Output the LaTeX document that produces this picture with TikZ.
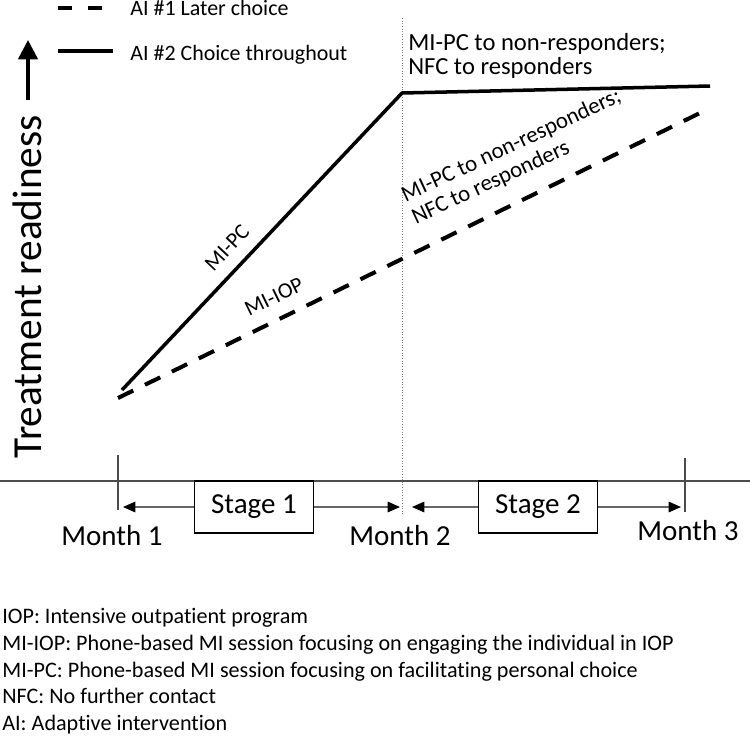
\documentclass[tikz,border=0pt]{standalone}
\usepackage{fontspec}
\setmainfont{Carlito}[Ligatures=CommonOff]
\usetikzlibrary{arrows.meta}

\begin{document}
\begin{tikzpicture}[x=0.02cm, y=-0.02cm,
  lbl/.style={font=\fontsize{12.5}{13.2}\selectfont, inner sep=0pt},
  note/.style={font=\fontsize{12.6}{14}\selectfont, inner sep=0pt, anchor=base west},
  month/.style={font=\fontsize{16.5}{18}\selectfont, inner sep=0pt, anchor=base},
  stagebox/.style={draw, line width=1.1pt, fill=white, minimum width=2.38cm,
                   minimum height=1.04cm, font=\fontsize{16.5}{18}\selectfont},
  later/.style={line width=2.3pt, dash pattern=on 0.34cm off 0.26cm},
  throughout/.style={line width=2pt},
  timeline/.style={black!70, line width=0.6pt},
  stagearr/.style={-{Triangle[length=7pt,width=6pt,color=black]}, black!60, line width=0.7pt}
]
\useasboundingbox (0,0) rectangle (750,735);

% legend
\coordinate (d0) at (58,8);
\coordinate (d1) at (103,8);
\coordinate (s0) at (58,51);
\coordinate (s1) at (113,51);
\draw[line width=2.3pt, dash pattern=on 0.28cm off 0.32cm] (d0) -- (d1);
\draw[line width=2.3pt] (s0) -- (s1);
\node[lbl, anchor=base west] (leg1) at (130,15) {AI \#1 Later choice};
\node[lbl, anchor=base west] (leg2) at (130,60) {AI \#2 Choice throughout};

% y axis
\coordinate (ya0) at (28,100);
\coordinate (ya1) at (28,40);
\draw[line width=2pt, -{Triangle[length=11pt,width=11pt]}] (ya0) -- (ya1);
\node[rotate=90, anchor=base, inner sep=0pt, font=\fontsize{23.5}{25}\selectfont]
  (ylab) at (41,287) {Treatment readiness};

% month 2 divider
\coordinate (dv0) at (402,18);
\coordinate (dv1) at (402,515);
\draw[black!50, densely dotted, line width=0.5pt] (dv0) -- (dv1);

% trajectories
\coordinate (pc0) at (122,390);
\coordinate (sw) at (402,93);
\coordinate (pc1) at (710,86);
\coordinate (iop0) at (118,398);
\coordinate (iop1) at (700,113);
\draw[throughout, line join=miter]
  (pc0) -- node[lbl, pos=0.43, sloped, above, inner sep=7pt] (pclbl) {MI-PC} (sw) -- (pc1);
\draw[later]
  (iop0) -- node[lbl, pos=0.285, sloped, above, inner sep=7.5pt] (ioplbl) {MI-IOP} (iop1);

\node[lbl, anchor=west, align=left, font=\fontsize{14}{14}\selectfont] (top2) at (408,56)
  {MI-PC to non-responders;\\NFC to responders};
\node[lbl, anchor=west, align=left, rotate=25, font=\fontsize{13}{14}\selectfont] (top1) at (408,208)
  {MI-PC to non-responders;\\NFC to responders};

% time line
\coordinate (tl0) at (0,481);
\coordinate (tl1) at (750,481);
\coordinate (t1a) at (118,455);
\coordinate (t1b) at (118,510);
\coordinate (t3a) at (685,458);
\coordinate (t3b) at (685,512);
\draw[timeline] (tl0) -- (tl1);
\draw[timeline] (t1a) -- (t1b);
\draw[timeline] (t3a) -- (t3b);

\node[stagebox] (st1) at (254,507) {Stage 1};
\node[stagebox] (st2) at (538,507) {Stage 2};
\coordinate (a1) at (123,507);
\coordinate (a2) at (400,507);
\coordinate (a3) at (412,507);
\coordinate (a4) at (681,507);
\draw[stagearr] (st1.west) -- (a1);
\draw[stagearr] (st1.east) -- (a2);
\draw[stagearr] (st2.west) -- (a3);
\draw[stagearr] (st2.east) -- (a4);

\node[month] (mon1) at (112,545) {Month 1};
\node[month] (mon2) at (400,545) {Month 2};
\node[month] (mon3) at (688,540) {Month 3};

% abbreviations
\node[note] (n1) at (2,623) {IOP: Intensive outpatient program};
\node[note] (n2) at (2,650) {MI-IOP: Phone-based MI session focusing on engaging the individual in IOP};
\node[note] (n3) at (2,677) {MI-PC: Phone-based MI session focusing on facilitating personal choice};
\node[note] (n4) at (2,703) {NFC: No further contact};
\node[note] (n5) at (2,730) {AI: Adaptive intervention};
\end{tikzpicture}
\end{document}
